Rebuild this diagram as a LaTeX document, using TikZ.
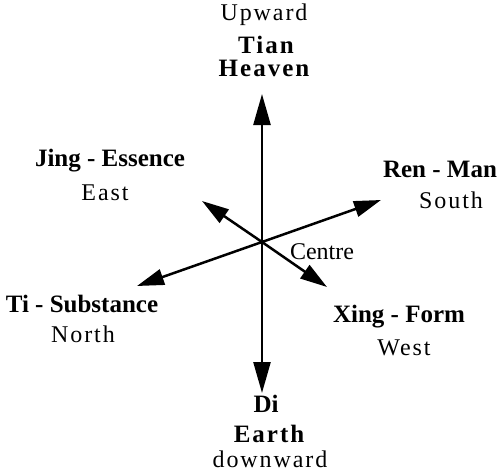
\documentclass[tikz,border=0pt]{standalone}
\usepackage{fontspec}
\setmainfont{Liberation Serif}
\newfontfamily\spaced{Liberation Serif}[LetterSpace=8]
\usetikzlibrary{arrows.meta}
\tikzset{
  lbl/.style={anchor=base, inner sep=0pt, font=\fontsize{25}{29}\selectfont\bfseries},
  sublbl/.style={anchor=base, inner sep=0pt, font=\fontsize{24}{28}\selectfont\spaced},
  bigarr/.style={line width=2.5pt, -{Triangle[length=31pt,width=17pt]}},
  arr/.style={line width=2.5pt, -{Triangle[length=27pt,width=16pt]}},
}
\begin{document}
\begin{tikzpicture}[x=1pt,y=-1pt]
\useasboundingbox (0,0) rectangle (499,474);
\coordinate (c) at (262,242);
\coordinate (up) at (262,94);
\coordinate (down) at (262,393);
\coordinate (ren) at (381,200);
\coordinate (ti) at (137,286);
\coordinate (jing) at (202,201);
\coordinate (xing) at (327,287);
\draw[bigarr] (c) -- (up);
\draw[bigarr] (c) -- (down);
\draw[arr] (c) -- (ren);
\draw[arr] (c) -- (ti);
\draw[arr] (c) -- (jing);
\draw[arr] (c) -- (xing);
\node[sublbl] (upward) at (264,20) {Upward};
\node[lbl,font=\fontsize{25}{29}\selectfont\spaced\bfseries] (tian) at (266,53) {Tian};
\node[lbl,font=\fontsize{25}{29}\selectfont\spaced\bfseries] (heaven) at (264,76) {Heaven};
\node[lbl] (jingl) at (110,166) {Jing - Essence};
\node[sublbl] (east) at (105,200) {East};
\node[lbl] (renl) at (440,177) {Ren - Man};
\node[sublbl] (south) at (451,208) {South};
\node[anchor=base, inner sep=0pt, font=\fontsize{24}{28}\selectfont] (centre) at (322,259) {Centre};
\node[lbl] (til) at (82,312) {Ti - Substance};
\node[sublbl] (north) at (83,342) {North};
\node[lbl] (xingl) at (399,322) {Xing - Form};
\node[sublbl] (west) at (404,355) {West};
\node[lbl] (di) at (266,412) {Di};
\node[lbl,font=\fontsize{25}{29}\selectfont\spaced\bfseries] (earth) at (269,442) {Earth};
\node[sublbl] (downward) at (270,467) {downward};
\end{tikzpicture}
\end{document}
